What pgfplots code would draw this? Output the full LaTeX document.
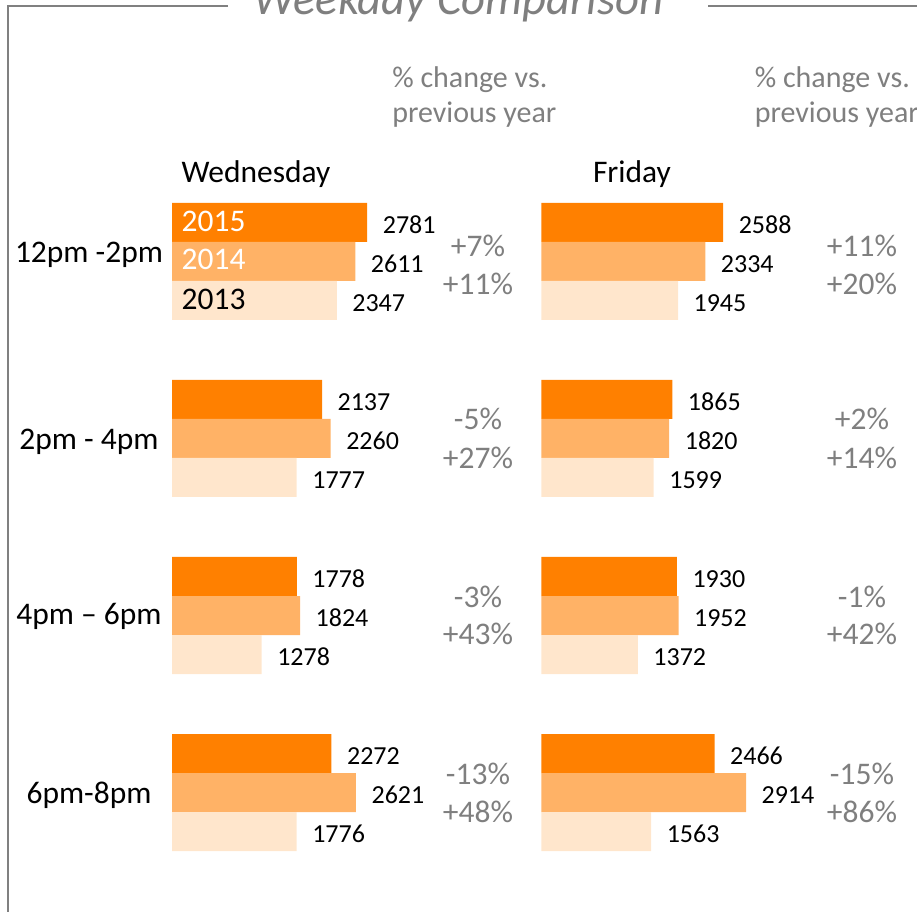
\documentclass[border=0pt]{standalone}
\usepackage{pgfplots}
\pgfplotsset{compat=1.18}
\usepackage{fontspec}
\setmainfont{Carlito}
\definecolor{c15}{RGB}{255,128,0}
\definecolor{c14}{RGB}{255,178,102}
\definecolor{c13}{RGB}{255,230,204}
\definecolor{txtgray}{RGB}{127,127,127}
\definecolor{linegray}{RGB}{128,128,128}
\newcommand{\bigf}{\fontsize{23.6}{28}\selectfont}
\newcommand{\hdrf}{\fontsize{22.5}{27}\selectfont}
\newcommand{\valf}{\fontsize{19.5}{23}\selectfont}
\begin{document}
\begin{tikzpicture}[x=0.75pt,y=0.75pt]
\useasboundingbox (0,0) rectangle (917,911);
\clip (0,0) rectangle (917,911);
\tikzset{txt/.style={inner sep=0pt, text height=15.2pt, text depth=0pt}}
% frame
\draw[linegray, line width=1.5pt] (228,905) -- (8,905) -- (8,-5);
\draw[linegray, line width=1.5pt] (708,905) -- (930,905);
\node[anchor=base, font=\fontsize{35}{40}\selectfont\itshape, text=txtgray, inner sep=0pt] at (458.5,896) {Weekday Comparison};

\pgfplotsset{panel/.style={
  xbar, xmin=0, xmax=4000, ymin=-0.5, ymax=3.5,
  scale only axis, width=210.6pt, height=531pt,
  hide axis, clip=false, bar width=29.25pt,
  anchor=south west,
  point meta=x,
  /pgf/number format/.cd, 1000 sep={}, assume math mode=true, /pgfplots/.cd,
  nodes near coords,
  every node near coord/.append style={anchor=west, inner sep=0pt, xshift=11.5pt, yshift=-1.8pt, font=\valf, text=black, text height=12.56pt, text depth=0pt},
}}

% Wednesday
\begin{axis}[panel, at={(129pt,22.5pt)}]
\addplot[fill=c15, draw=none, bar shift=29.25pt] coordinates {(2781,3) (2137,2) (1778,1) (2272,0)};
\addplot[fill=c14, draw=none, bar shift=0pt] coordinates {(2611,3) (2260,2) (1824,1) (2621,0)};
\addplot[fill=c13, draw=none, bar shift=-29.25pt] coordinates {(2347,3) (1777,2) (1278,1) (1776,0)};
\node[txt, anchor=west, text=white, font=\bigf] at (axis cs:0,3) [xshift=7.1pt, yshift=30.4pt] {2015};
\node[txt, anchor=west, text=white, font=\bigf] at (axis cs:0,3) [xshift=7.1pt, yshift=1.5pt] {2014};
\node[txt, anchor=west, text=black, font=\bigf] at (axis cs:0,3) [xshift=7.1pt, yshift=-28.1pt] {2013};
\end{axis}

% Friday
\begin{axis}[panel, at={(406.1pt,22.5pt)}]
\addplot[fill=c15, draw=none, bar shift=29.25pt] coordinates {(2588,3) (1865,2) (1930,1) (2466,0)};
\addplot[fill=c14, draw=none, bar shift=0pt] coordinates {(2334,3) (1820,2) (1952,1) (2914,0)};
\addplot[fill=c13, draw=none, bar shift=-29.25pt] coordinates {(1945,3) (1599,2) (1372,1) (1563,0)};
\end{axis}

% headers
\node[inner sep=0pt, text height=14.5pt, text depth=0pt, anchor=west, font=\hdrf, text=txtgray] at (392,833) {\% change vs.};
\node[inner sep=0pt, text height=14.5pt, text depth=0pt, anchor=west, font=\hdrf, text=txtgray] at (392,798) {previous year};
\node[inner sep=0pt, text height=14.5pt, text depth=0pt, anchor=west, font=\hdrf, text=txtgray] at (754.5,833) {\% change vs.};
\node[inner sep=0pt, text height=14.5pt, text depth=0pt, anchor=west, font=\hdrf, text=txtgray] at (754.5,798) {previous year};
\node[txt, font=\bigf] at (256,739) {Wednesday};
\node[txt, font=\bigf] at (632,739) {Friday};

% row labels
\node[txt, font=\bigf] at (89,659) {12pm -2pm};
\node[txt, font=\bigf] at (89,472) {2pm - 4pm};
\node[txt, font=\bigf] at (89,297) {4pm – 6pm};
\node[txt, font=\bigf] at (89,118) {6pm-8pm};

% percent changes
\foreach \xx/\a/\b/\c/\d/\e/\f/\g/\h in {478/+7\%/+11\%/-5\%/+27\%/-3\%/+43\%/-13\%/+48\%, 862/+11\%/+20\%/+2\%/+14\%/-1\%/+42\%/-15\%/+86\%}{
  \node[txt, font=\bigf, text=txtgray] at (\xx,665) {\a};
  \node[txt, font=\bigf, text=txtgray] at (\xx,627) {\b};
  \node[txt, font=\bigf, text=txtgray] at (\xx,492) {\c};
  \node[txt, font=\bigf, text=txtgray] at (\xx,453) {\d};
  \node[txt, font=\bigf, text=txtgray] at (\xx,314) {\e};
  \node[txt, font=\bigf, text=txtgray] at (\xx,277) {\f};
  \node[txt, font=\bigf, text=txtgray] at (\xx,137) {\g};
  \node[txt, font=\bigf, text=txtgray] at (\xx,99) {\h};
}
\end{tikzpicture}
\end{document}
